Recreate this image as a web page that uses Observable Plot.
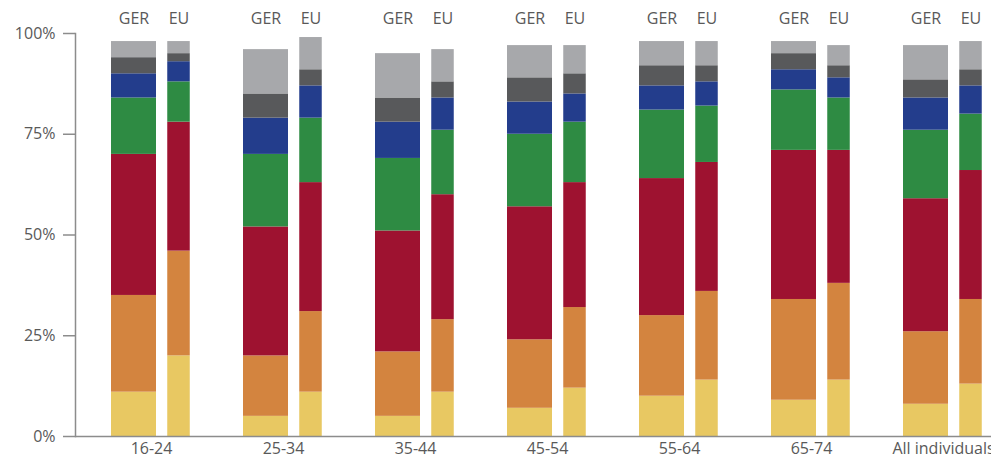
<!DOCTYPE html>
<html>
<head>
<meta charset="utf-8">
<script src="https://cdn.jsdelivr.net/npm/d3@7"></script>
<script src="https://cdn.jsdelivr.net/npm/@observablehq/plot@0.6"></script>
<style>
  html, body { margin: 0; padding: 0; background: #fff; overflow: hidden; width: 991px; height: 454px; }
  #chart { width: 991px; height: 454px; overflow: hidden; }
</style>
</head>
<body>
<div id="chart"></div>
<script>
// ---- data ----
const groups = ["16-24", "25-34", "35-44", "45-54", "55-64", "65-74", "All individuals"];
const regions = ["GER", "EU"];
const seriesNames = ["Category 1", "Category 2", "Category 3", "Category 4", "Category 5", "Category 6", "Category 7"];
const seriesColors = ["#e8c862", "#d3843f", "#9e1230", "#2e8b43", "#233d8c", "#58595b", "#a7a8ab"];
// rows = series (bottom to top), columns = groups
const gerValues = [
  [11, 5, 5, 7, 10, 9, 8],
  [24, 15, 16, 17, 20, 25, 18],
  [35, 32, 30, 33, 34, 37, 33],
  [14, 18, 18, 18, 17, 15, 17],
  [6, 9, 9, 8, 6, 5, 8],
  [4, 6, 6, 6, 5, 4, 4.5],
  [4, 11, 11, 8, 6, 3, 8.5]
];
const euValues = [
  [20, 11, 11, 12, 14, 14, 13],
  [26, 20, 18, 20, 22, 24, 21],
  [32, 32, 31, 31, 32, 33, 32],
  [10, 16, 16, 15, 14, 13, 14],
  [5, 8, 8, 7, 6, 5, 7],
  [2, 4, 4, 5, 4, 3, 4],
  [3, 8, 8, 7, 6, 5, 7]
];
const yTicks = [0, 25, 50, 75, 100];

// ---- table ----
const rows = [];
for (const [region, values] of [["GER", gerValues], ["EU", euValues]]) {
  seriesNames.forEach((s, si) => {
    groups.forEach((g, gi) => {
      rows.push({group: g, region, series: s, value: values[si][gi]});
    });
  });
}

const textColor = "#595959";
const lineColor = "#8c8c8c";
const font = "'Open Sans', sans-serif";

const chart = Plot.plot({
  width: 1001,
  height: 454,
  marginLeft: 72,
  marginRight: 0,
  marginTop: 33,
  marginBottom: 18,
  style: {fontFamily: font, fontSize: "16px", maxWidth: "none", overflow: "visible", background: "white"},
  fx: {domain: groups, padding: 0, label: null},
  x: {domain: regions, paddingInner: 0, paddingOuter: 0.458, align: 0.863, label: null},
  y: {domain: [0, 100], label: null},
  color: {domain: seriesNames, range: seriesColors},
  marks: [
    Plot.barY(rows.filter(d => d.region === "GER"), {
      fx: "group", x: "region", y: "value", fill: "series"
    }),
    Plot.barY(rows.filter(d => d.region === "EU"), {
      fx: "group", x: "region", y: "value", fill: "series", insetLeft: 11.25, insetRight: 11.25
    }),
    Plot.ruleY([0], {stroke: lineColor, strokeWidth: 1.5}),
    Plot.frame({anchor: "left", facetAnchor: "left", stroke: lineColor, strokeWidth: 1.5}),
    Plot.axisY({ticks: yTicks, tickFormat: d => d + "%", tickSize: 12, tickPadding: 8,
      stroke: lineColor, strokeWidth: 1.5, fill: textColor, fontSize: 16, label: null}),
    Plot.axisX({anchor: "top", tickSize: 0, tickPadding: 10, fill: textColor, fontSize: 16, label: null}),
    Plot.axisFx({anchor: "bottom", tickSize: 0, tickPadding: 6, dx: 10, fill: textColor, fontSize: 16, label: null})
  ]
});
document.getElementById("chart").appendChild(chart);
</script>
</body>
</html>
